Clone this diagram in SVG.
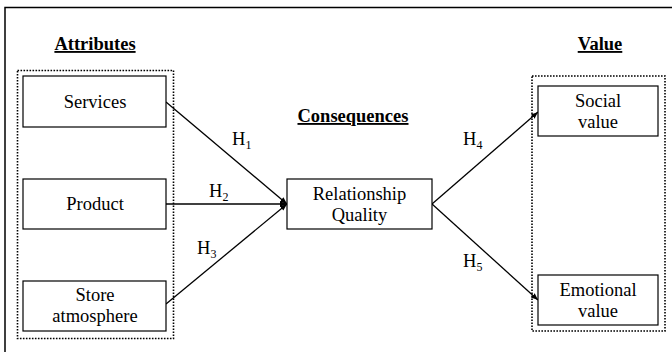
<svg xmlns="http://www.w3.org/2000/svg" width="672" height="352" viewBox="0 0 672 352">
<defs>
<marker id="ah" viewBox="0 0 10 10" refX="10" refY="5" markerWidth="7" markerHeight="7" markerUnits="userSpaceOnUse" orient="auto">
<path d="M0,1 L10,5 L0,9 Z" fill="#000"/>
</marker>
</defs>
<style>
text{font-family:"Liberation Serif","Times New Roman",serif;font-size:18.5px;fill:#000;text-anchor:middle}
.h{font-weight:bold;text-decoration:underline}
.box{fill:#fff;stroke:#000;stroke-width:1.2}
.grp{fill:none;stroke:#000;stroke-width:1.6;stroke-dasharray:1.6 1.4}
.con{stroke:#000;stroke-width:1.3;fill:none;marker-end:url(#ah)}
.sub{font-size:12px}
</style>
<rect width="672" height="352" fill="#fff"/>
<rect x="5" y="7.5" width="700" height="400" fill="none" stroke="#000" stroke-width="1.5"/>
<g id="headings">
<text class="h" x="95" y="50">Attributes</text>
<text class="h" x="353" y="122">Consequences</text>
<text class="h" x="600" y="50">Value</text>
</g>
<g id="attributes-group"><rect class="grp" x="17.5" y="70.5" width="156" height="268"/></g>
<g id="value-group"><rect class="grp" x="532" y="76" width="133" height="255"/></g>
<g id="connectors">
<line class="con" x1="166" y1="102" x2="287" y2="204"/>
<line class="con" x1="166" y1="204" x2="287" y2="204"/>
<line class="con" x1="166" y1="304" x2="287" y2="204"/>
<line class="con" x1="432" y1="204" x2="538" y2="112"/>
<line class="con" x1="432" y1="204" x2="538" y2="300"/>
<text x="232" y="145" text-anchor="start" style="text-anchor:start">H<tspan class="sub" dy="4">1</tspan></text>
<text x="209" y="197" style="text-anchor:start">H<tspan class="sub" dy="4">2</tspan></text>
<text x="197" y="254" style="text-anchor:start">H<tspan class="sub" dy="4">3</tspan></text>
<text x="463" y="145" style="text-anchor:start">H<tspan class="sub" dy="4">4</tspan></text>
<text x="463" y="267" style="text-anchor:start">H<tspan class="sub" dy="4">5</tspan></text>
</g>
<g id="services"><rect class="box" x="23" y="76" width="143" height="51"/><text x="95" y="108">Services</text></g>
<g id="product"><rect class="box" x="23" y="179" width="143" height="50"/><text x="95" y="210">Product</text></g>
<g id="store"><rect class="box" x="23" y="281" width="143" height="50"/><text x="95" y="301">Store</text><text x="95" y="322">atmosphere</text></g>
<g id="relationship"><rect class="box" x="287" y="179" width="145" height="50"/><text x="359.5" y="200">Relationship</text><text x="359.5" y="221">Quality</text></g>
<g id="social"><rect class="box" x="538" y="86" width="120" height="50"/><text x="598" y="107">Social</text><text x="598" y="128">value</text></g>
<g id="emotional"><rect class="box" x="538" y="275" width="120" height="50"/><text x="598" y="296">Emotional</text><text x="598" y="317">value</text></g>
</svg>
